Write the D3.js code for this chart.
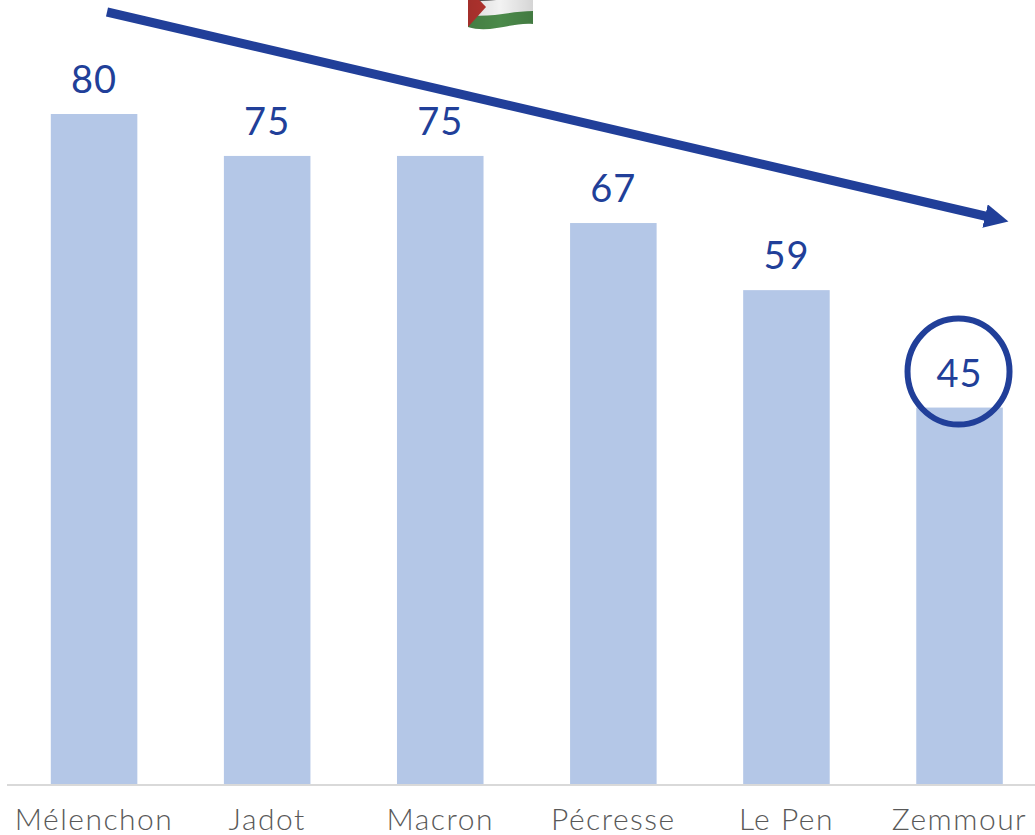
<!DOCTYPE html>
<html>
<head>
<meta charset="utf-8">
<script src="https://cdn.jsdelivr.net/npm/d3@7"></script>
<style>
  html, body { margin: 0; padding: 0; background: #fff; overflow: hidden; }
  svg { display: block; }
</style>
</head>
<body>
<div id="chart-container"></div>
<script>
const candidates = ["Mélenchon", "Jadot", "Macron", "Pécresse", "Le Pen", "Zemmour"];
const scores = [80, 75, 75, 67, 59, 45];

const margin = { top: 0, right: 0, bottom: 50, left: 7 };
const width = 1035 - margin.left - margin.right;
const height = 835 - margin.top - margin.bottom;

const blue = "#213f99";

const x = d3.scaleBand()
    .domain(candidates)
    .range([43.8, 995.8])
    .paddingInner(0.5)
    .paddingOuter(0);

const y = d3.scaleLinear()
    .domain([0, 80])
    .range([height, 114]);

const svg = d3.select("#chart-container")
    .append("svg")
    .attr("width", 1035)
    .attr("height", 835);

const defs = svg.append("defs");

defs.append("marker")
    .attr("id", "arrow")
    .attr("markerUnits", "userSpaceOnUse")
    .attr("markerWidth", 30)
    .attr("markerHeight", 28)
    .attr("refX", 2)
    .attr("refY", 12)
    .attr("orient", "auto")
    .append("path")
    .attr("d", "M0,0L24,12L0,24Z")
    .attr("fill", blue);

const flagShade = defs.append("linearGradient").attr("id", "flagShade");
flagShade.append("stop").attr("offset", "0").attr("stop-color", "#000").attr("stop-opacity", 0.1);
flagShade.append("stop").attr("offset", "0.5").attr("stop-color", "#000").attr("stop-opacity", 0);
flagShade.append("stop").attr("offset", "1").attr("stop-color", "#000").attr("stop-opacity", 0.12);

const g = svg.append("g")
    .attr("transform", `translate(${margin.left},${margin.top})`);

g.selectAll(".bar")
    .data(candidates)
    .join("rect")
    .attr("class", "bar")
    .attr("x", d => x(d))
    .attr("y", (d, i) => y(scores[i]))
    .attr("width", x.bandwidth())
    .attr("height", (d, i) => height - y(scores[i]))
    .attr("fill", "#b4c7e7");

const xAxis = g.append("g")
    .attr("transform", `translate(0,${height})`)
    .call(d3.axisBottom(x).tickSize(0).tickPadding(24));

xAxis.select(".domain")
    .attr("d", `M0,0H${width}`)
    .attr("stroke", "#d9d9d9")
    .attr("stroke-width", 2);

xAxis.selectAll("text")
    .attr("font-family", "Lato")
    .attr("font-weight", 300)
    .attr("font-size", 30)
    .attr("letter-spacing", 1.5)
    .attr("fill", "#595959");

g.selectAll(".score")
    .data(candidates)
    .join("text")
    .attr("class", "score")
    .attr("x", d => x(d) + x.bandwidth() / 2)
    .attr("y", (d, i) => y(scores[i]) - 21)
    .attr("text-anchor", "middle")
    .attr("font-family", "Lato")
    .attr("font-size", 38)
    .attr("letter-spacing", 1)
    .attr("fill", blue)
    .text((d, i) => scores[i]);

// highlight on the last candidate
g.append("ellipse")
    .attr("cx", x("Zemmour") + x.bandwidth() / 2 - 1)
    .attr("cy", y(45) - 36)
    .attr("rx", 51)
    .attr("ry", 53)
    .attr("fill", "none")
    .attr("stroke", blue)
    .attr("stroke-width", 6);

// falling trend arrow
svg.append("line")
    .attr("x1", 107)
    .attr("y1", 12)
    .attr("x2", 987)
    .attr("y2", 216.5)
    .attr("stroke", blue)
    .attr("stroke-width", 9)
    .attr("marker-end", "url(#arrow)");

// flag, cut off by the top edge
const flag = svg.append("g");
flag.append("path").attr("d", "M468,-12H533V24C512,22 490,34 468,27Z").attr("fill", "#f2f2f2");
flag.append("path").attr("d", "M468,-12H533V-4C512,-3 490,3 468,0Z").attr("fill", "#1c1c1c");
flag.append("path").attr("d", "M468,15C490,18 512,11 533,11V24C512,22 490,34 468,27Z").attr("fill", "#4b8a4a");
flag.append("path").attr("d", "M468,-12L486,7L468,27Z").attr("fill", "#b5342f");
flag.append("path").attr("d", "M468,-12H533V24C512,22 490,34 468,27Z").attr("fill", "url(#flagShade)");
</script>
</body>
</html>
